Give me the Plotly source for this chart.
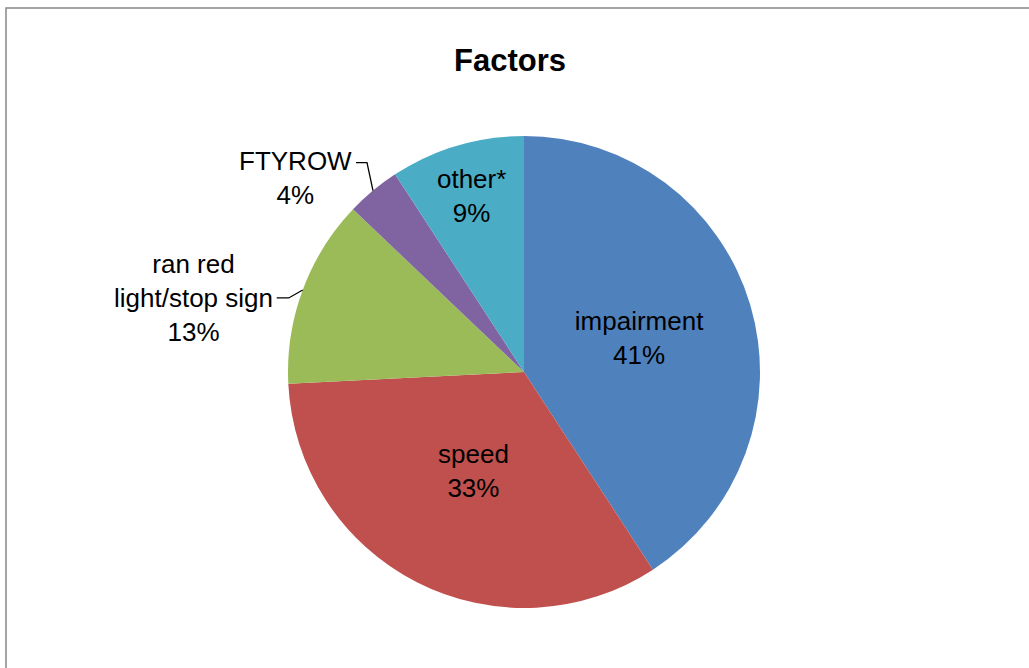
import math
import plotly.graph_objects as go

W, H = 1029, 668

labels = ["impairment", "speed", "ran red<br>light/stop sign", "FTYROW", "other*"]
values = [40.8, 33.4, 12.9, 3.7, 9.2]
colors = ["#4F81BD", "#C0504D", "#9BBB59", "#8064A2", "#4BACC6"]
text_pos = ["inside", "annot", "outside", "outside", "inside"]
title_text = "Factors"

FONT = "Liberation Sans, Arial"

# pie geometry (pixels)
cx, cy, R = 524, 372, 236
dom_x = [(cx - R) / W, (cx + R) / W]
dom_y = [1 - (cy + R) / H, 1 - (cy - R) / H]

total = sum(values)
pcts = [v / total for v in values]

fig = go.Figure(go.Pie(
    labels=labels, values=values, sort=False, direction="clockwise", rotation=0,
    marker=dict(colors=colors, line=dict(width=0)),
    texttemplate=[("%{label}<br>%{percent:.0%}" if p == "inside" else "") for p in text_pos],
    textposition=["inside" if p == "inside" else "none" for p in text_pos],
    insidetextorientation="horizontal",
    textfont=dict(family=FONT, size=26, color="black"),
    domain=dict(x=dom_x, y=dom_y),
    showlegend=False, hoverinfo="label+percent",
))

# outside labels with elbow leader lines (computed from slice mid angles)
# (elbow offset, horizontal run, vertical shift of text block)
offsets = {2: ((-14, 8), -12, 0), 3: ((-6, -28), -11, 15)}
shapes = [dict(type="rect", xref="paper", yref="paper",
               x0=6 / W, y0=-0.05, x1=1.05, y1=1 - 8 / H,
               line=dict(color="#868686", width=1.5), fillcolor="rgba(0,0,0,0)", layer="below")]
annotations = []
cum = 0
for i, p in enumerate(pcts):
    mid = (cum + p / 2) * 2 * math.pi
    cum += p
    txt = f"{labels[i]}<br>{round(p*100)}%"
    if text_pos[i] == "annot":
        lr = 0.47 * R
        lx, ly = cx + lr * math.sin(mid), cy - lr * math.cos(mid)
        annotations.append(dict(
            x=lx / W, y=1 - ly / H, xref="paper", yref="paper",
            xanchor="center", yanchor="middle", align="center", showarrow=False,
            text=txt, font=dict(family=FONT, size=26, color="black")))
        continue
    if text_pos[i] != "outside":
        continue
    ex, ey = cx + R * math.sin(mid), cy - R * math.cos(mid)
    (dx, dy), hx, vs = offsets[i]
    bx, by = ex + dx, ey + dy
    tx = bx + hx
    path = f"M {ex/W},{1-ey/H} L {bx/W},{1-by/H} L {tx/W},{1-by/H}"
    shapes.append(dict(type="path", xref="paper", yref="paper", path=path,
                       line=dict(color="black", width=1.3)))
    annotations.append(dict(
        x=(tx - 2) / W, y=1 - (by + vs) / H, xref="paper", yref="paper",
        xanchor="right", yanchor="middle", align="center", showarrow=False,
        text=txt, font=dict(family=FONT, size=26, color="black")))

annotations.append(dict(x=510 / W, y=1 - 60 / H, xref="paper", yref="paper",
                        xanchor="center", yanchor="middle", showarrow=False,
                        text=f"<b>{title_text}</b>",
                        font=dict(family=FONT, size=31, color="black")))

fig.update_layout(width=W, height=H, margin=dict(l=0, r=0, t=0, b=0),
                  paper_bgcolor="white", plot_bgcolor="white",
                  shapes=shapes, annotations=annotations)
fig.write_html("out.html", config={"displayModeBar": False},
               post_script="document.body.style.margin='0';")
